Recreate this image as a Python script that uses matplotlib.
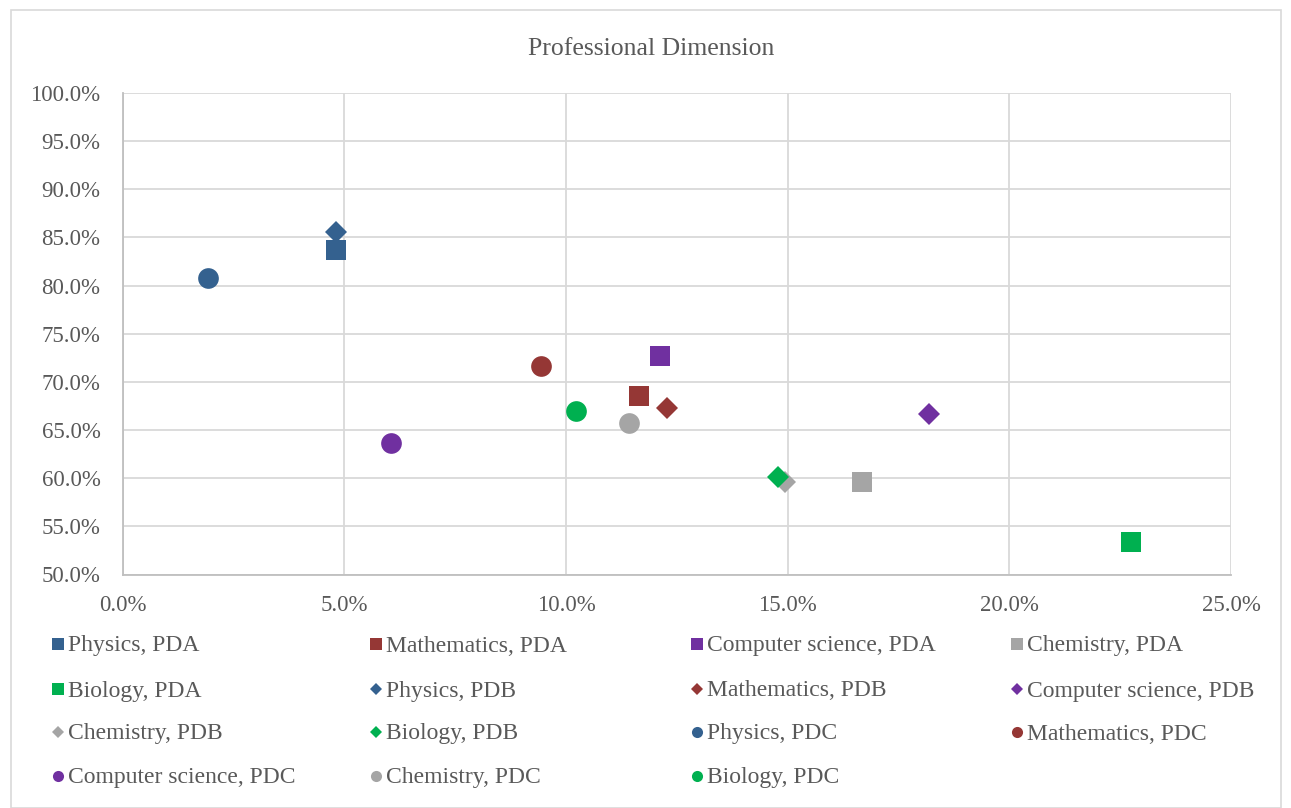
import matplotlib
matplotlib.use("Agg")
import matplotlib.pyplot as plt
from matplotlib.lines import Line2D
from matplotlib.patches import Rectangle
from matplotlib.ticker import FuncFormatter, MultipleLocator

plt.rcParams['font.family'] = ['Liberation Serif', 'DejaVu Serif']

subjects = ["Physics", "Mathematics", "Computer science", "Chemistry", "Biology"]
colors = ["#34618F", "#953735", "#7030A0", "#A5A5A5", "#00B050"]

# x = share (%), y = share (%) for each subject in the three groups
pda_x = [4.81, 11.64, 12.12, 16.67, 22.74]
pda_y = [83.65, 68.56, 72.70, 59.60, 53.35]
pdb_x = [4.81, 12.27, 18.19, 14.94, 14.78]
pdb_y = [85.56, 67.28, 66.65, 59.58, 60.17]
pdc_x = [1.93, 9.44, 6.05, 11.41, 10.23]
pdc_y = [80.77, 71.67, 63.67, 65.78, 67.03]

groups = [("PDA", "s", 14.9, pda_x, pda_y),
          ("PDB", "D", 11.5, pdb_x, pdb_y),
          ("PDC", "o", 14.9, pdc_x, pdc_y)]

W, H = 1291, 808
fig = plt.figure(figsize=(W / 100, H / 100), dpi=100)

# outer chart frame
fig.patches.append(Rectangle((11 / W, 0), (1281 - 11) / W, (H - 10) / H,
                             transform=fig.transFigure, fill=False,
                             edgecolor="#D9D9D9", linewidth=1.2))

left, right, top, bottom = 122.7, 1231, 93, 574.5
ax = fig.add_axes([left / W, 1 - bottom / H, (right - left) / W, (bottom - top) / H])

ax.set_xlim(0, 25)
ax.set_ylim(50, 100)
ax.xaxis.set_major_locator(MultipleLocator(5))
ax.yaxis.set_major_locator(MultipleLocator(5))
fmt = FuncFormatter(lambda v, p: f"{v:.1f}%")
ax.xaxis.set_major_formatter(fmt)
ax.yaxis.set_major_formatter(fmt)
ax.grid(True, color="#D9D9D9", linewidth=1.3)
ax.set_axisbelow(True)
for s in ["top", "right"]:
    ax.spines[s].set_visible(False)
for s in ["left", "bottom"]:
    ax.spines[s].set_color("#BFBFBF")
    ax.spines[s].set_linewidth(1.3)
ax.tick_params(length=0, labelsize=16.5, labelcolor="#595959")
ax.tick_params(axis="x", pad=15)
ax.tick_params(axis="y", pad=16)

entries = []
for gname, marker, ms, xs, ys in groups:
    for subj, col, x, y in zip(subjects, colors, xs, ys):
        ax.plot([x], [y], linestyle="none", marker=marker, markersize=ms,
                color=col, markeredgewidth=0, zorder=3)
        entries.append((f"{subj}, {gname}", marker, col))

fig.text(651 / W, 1 - 49 / H, "Professional Dimension", ha="center", va="center",
         fontsize=18.5, color="#595959")

# legend laid out in four equal-width columns
col_x = [58, 376, 697, 1017]
row_y = [644, 689, 732, 776]
for i, (label, marker, col) in enumerate(entries):
    r, c = divmod(i, 4)
    mx, my = col_x[c], row_y[r]
    lm = 8 if marker != "D" else 6.5
    fig.add_artist(Line2D([mx / W], [1 - my / H], transform=fig.transFigure,
                          linestyle="none", marker=marker, markersize=lm,
                          color=col, markeredgewidth=0))
    fig.text((mx + 10) / W, 1 - (my + 2) / H, label, ha="left", va="center",
             fontsize=17, color="#595959")

fig.savefig("out.png", dpi=100, facecolor="white")
